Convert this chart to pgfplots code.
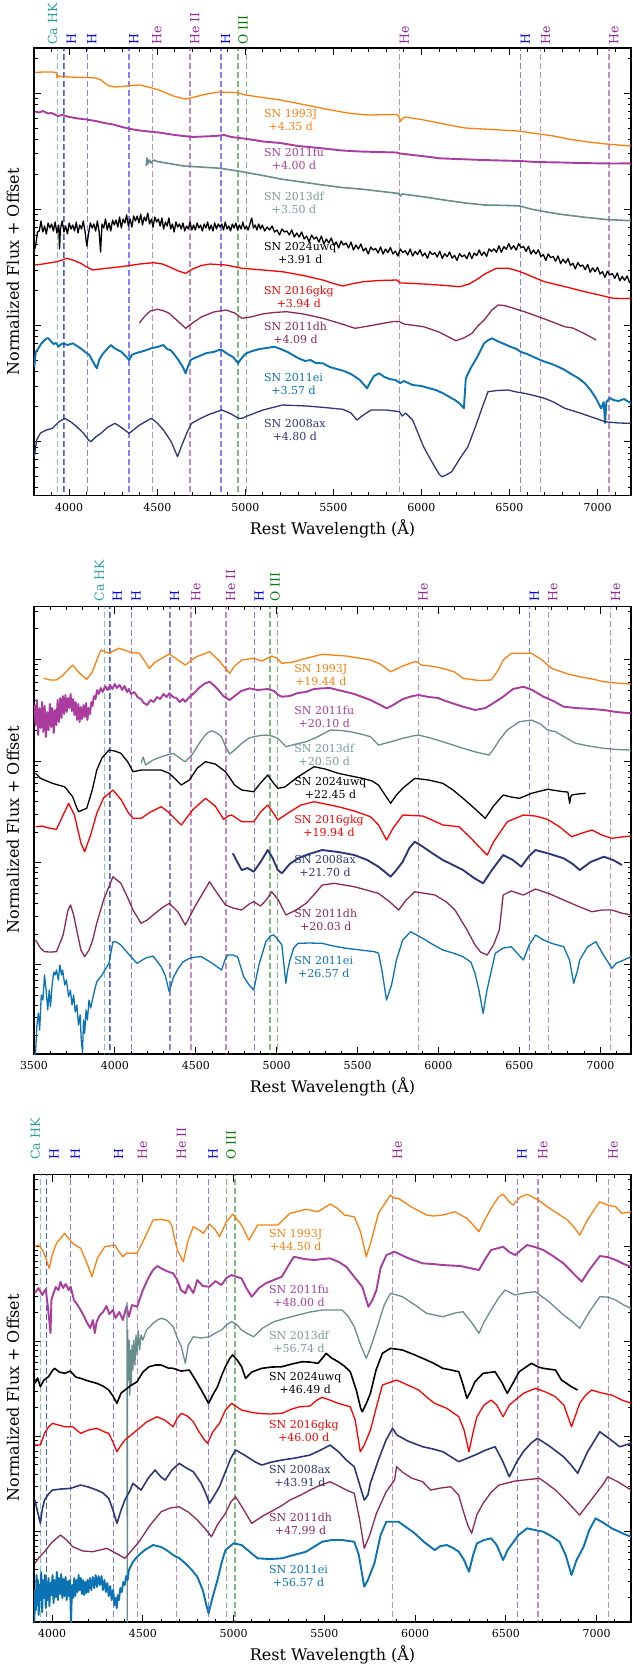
\documentclass[border=0pt]{standalone}
\usepackage{fontspec}
\setmainfont{DejaVu Serif}
\usepackage{pgfplots}
\pgfplotsset{compat=1.18}
\definecolor{c93J}{RGB}{255,127,14}
\definecolor{cfu}{RGB}{170,60,160}
\definecolor{cdf}{RGB}{105,140,140}
\definecolor{cdflab}{RGB}{120,155,155}
\definecolor{cuwq}{RGB}{0,0,0}
\definecolor{cgkg}{RGB}{255,0,0}
\definecolor{cdh}{RGB}{140,40,85}
\definecolor{cei}{RGB}{10,115,180}
\definecolor{cax}{RGB}{45,55,120}
\definecolor{caHK}{RGB}{40,160,160}
\definecolor{hblue}{RGB}{0,0,255}
\definecolor{hepur}{RGB}{150,40,150}
\definecolor{oiii}{RGB}{0,120,0}
\pgfplotsset{
 spec/.style={line width=1.3pt, line join=round, forget plot},
 noisy/.style={line width=1.9pt, line join=round, forget plot},
 panel/.style={
   scale only axis, width=597pt, height=447.5pt, anchor=north west,
   y dir=reverse, clip mode=individual,
   tick align=inside, tick pos=both,
   major tick length=7pt, minor tick length=3.5pt,
   every tick/.append style={line width=0.9pt, black},
   axis line style={line width=1.1pt},
   yticklabels={},
   xticklabel style={font=\fontsize{11}{13}\selectfont, yshift=-4pt},
 },
}
\newcommand{\specline}[3]{\addplot[draw=#1, draw opacity=#2, line width=1.3pt, dash pattern=on 6pt off 3pt, forget plot] coordinates {(#3,0) (#3,2000)};}
\newcommand{\alllines}{%
 \specline{caHK}{0.6}{3934}\specline{caHK}{0.6}{3968}%
 \specline{hblue}{0.5}{3970}\specline{hblue}{0.5}{4102}\specline{hblue}{0.5}{4340}\specline{hblue}{0.5}{4861}\specline{hblue}{0.5}{6563}%
 \specline{hepur}{0.55}{4471}\specline{hepur}{0.55}{4686}\specline{hepur}{0.55}{5876}\specline{hepur}{0.55}{6678}\specline{hepur}{0.55}{7065}%
 \specline{oiii}{0.5}{4959}\specline{oiii}{0.5}{5007}}
\tikzset{lab/.style={rotate=90, anchor=north west, inner sep=0pt, font=\fontsize{12.5}{14}\selectfont},
 snlab/.style={anchor=west, align=center, inner sep=0pt, font=\fontsize{11}{13}\selectfont}}
\newcommand{\alllabels}[1]{%
 \node[lab, text=caHK, anchor=south west] at (axis cs:3934,#1) {Ca HK};
 \node[lab, text=hblue] at (axis cs:3985,#1) {H};
 \node[lab, text=hblue] at (axis cs:4102,#1) {H};
 \node[lab, text=hblue] at (axis cs:4340,#1) {H};
 \node[lab, text=hblue] at (axis cs:4861,#1) {H};
 \node[lab, text=hblue] at (axis cs:6563,#1) {H};
 \node[lab, text=hepur] at (axis cs:4471,#1) {He};
 \node[lab, text=hepur] at (axis cs:4686,#1) {He II};
 \node[lab, text=hepur] at (axis cs:5876,#1) {He};
 \node[lab, text=hepur] at (axis cs:6678,#1) {He};
 \node[lab, text=hepur] at (axis cs:7065,#1) {He};
 \node[lab, text=oiii] at (axis cs:4959,#1) {O III};}
\begin{document}
\begin{tikzpicture}
\useasboundingbox (0,0) rectangle (632pt,-1668pt);
%================ PANEL 1 ================
\begin{axis}[panel, at={(34pt,-48pt)}, xmin=3800, xmax=7190, ymin=48, ymax=495.5,
 xtick={4000,4500,...,7000}, xticklabels={4000,4500,5000,5500,6000,6500,7000},
 minor xtick={3800,3900,...,7100},
 ytick={93.1,209.3,325.5,441.7},
 minor ytick={58.1,98.4,104.4,111.1,118.9,128.1,139.3,153.9,174.3,214.6,220.6,227.3,235.1,244.3,255.5,270.1,290.5,330.8,336.8,343.5,351.3,360.5,371.7,386.3,406.7,447.0,453.0,459.7,467.5,476.7,487.9}]
\alllines
\addplot[spec, color=c93J] coordinates {(3805,72.5) (3850,72) (3900,72) (3925,72.5) (3932,78) (3940,76) (3960,76.5) (4000,77) (4100,77.5) (4150,78) (4180,80) (4220,85.5) (4260,87) (4300,86.5) (4350,85.5) (4400,85) (4450,87) (4500,89.5) (4550,93) (4600,96.5) (4660,99) (4700,97.5) (4780,94) (4850,92) (4950,92.5) (5000,95) (5040,96) (5100,97.5) (5200,100) (5300,103.5) (5400,107) (5500,110.5) (5600,113.5) (5700,115) (5860,114.5) (5872,116) (5880,121.5) (5890,119) (5905,117) (6000,119.5) (6100,123) (6200,126.5) (6250,128) (6400,129.5) (6550,131) (6650,133.5) (6750,136) (6850,139.5) (6950,142) (7050,144) (7150,145.5) (7190,146)};
\addplot[noisy, color=cfu] coordinates {(3805,111.5) (3830,112.5) (3850,111) (3880,113.5) (3900,113) (3935,116) (3960,115) (4000,117) (4050,118.5) (4100,119.5) (4150,121) (4200,123) (4250,124.5) (4300,127) (4350,129) (4380,130) (4450,131.5) (4510,132.5) (4600,135) (4700,137) (4760,136.5) (4830,136) (4880,135) (4920,137) (4990,138.5) (5050,140) (5100,141.5) (5200,143) (5300,146) (5420,148) (5550,150.5) (5650,151.5) (5750,152) (5860,152.5) (5880,153.5) (5950,155) (6050,157) (6100,158.3) (6200,159) (6350,160) (6450,160.5) (6560,161) (6650,162) (6800,162.5) (6900,163) (7000,163.3) (7100,163.5) (7190,163.3)};
\addplot[spec, line width=1.6pt, color=cdf] coordinates {(4437,166) (4442,158) (4447,164) (4455,160) (4465,163) (4478,160) (4500,161.5) (4550,163) (4650,166) (4700,166.5) (4860,168.3) (4920,170) (4980,171.7) (5100,175.5) (5210,179.3) (5300,181.5) (5440,185) (5550,187.5) (5670,189.3) (5800,192) (5870,193.5) (5880,196) (5890,194) (6000,196.5) (6130,200) (6250,203) (6360,205) (6500,205.5) (6560,206) (6620,209) (6700,211.7) (6800,214.5) (6930,217.3) (7050,219.5) (7190,220.7)};
\addplot[spec, color=cuwq] coordinates {(3802,250) (3810,245) (3820,232) (3830,231) (3840,221) (3850,232) (3860,226) (3870,234) (3880,223) (3890,228) (3900,224) (3910,231) (3920,222) (3930,233) (3940,225) (3945,249) (3950,229) (3960,221) (3970,232) (3980,226) (3990,234) (4000,223) (4010,229) (4020,225) (4030,231) (4040,222) (4050,233) (4060,225) (4070,229) (4080,221) (4090,232) (4100,246) (4110,233) (4120,223) (4130,228) (4140,224) (4150,231) (4160,221) (4170,232) (4178,252) (4186,224) (4196,228) (4206,219) (4216,230) (4226,223) (4236,231) (4246,220) (4256,225) (4266,220) (4276,227) (4286,217) (4296,228) (4306,219) (4316,223) (4326,215) (4336,226) (4346,219) (4356,227) (4366,216) (4376,221) (4386,216) (4396,223) (4406,214) (4416,225) (4426,217) (4436,221) (4446,213) (4456,224) (4466,219) (4476,227) (4486,217) (4496,222) (4506,219) (4516,226) (4526,218) (4536,229) (4546,222) (4556,226) (4566,218) (4576,229) (4586,224) (4596,232) (4606,222) (4616,227) (4626,224) (4636,229) (4646,223) (4656,231) (4666,226) (4676,229) (4686,222) (4696,230) (4706,225) (4716,230) (4726,223) (4736,228) (4746,225) (4756,231) (4766,224) (4776,228) (4786,222) (4796,230) (4806,225) (4816,231) (4826,223) (4836,229) (4846,224) (4856,227) (4866,224) (4876,230) (4886,222) (4896,229) (4906,226) (4916,231) (4926,224) (4936,228) (4946,223) (4956,230) (4966,225) (4976,229) (4986,222) (4996,229) (5006,226) (5016,230) (5026,224) (5036,218) (5046,228) (5056,225) (5066,230) (5076,224) (5086,229) (5096,225) (5110,231) (5124,227) (5138,230) (5152,226) (5166,232) (5180,230) (5194,235) (5208,229) (5222,232) (5236,231) (5250,235) (5264,230) (5278,237) (5292,233) (5306,237) (5320,232) (5334,239) (5348,236) (5362,242) (5376,235) (5390,239) (5404,237) (5418,242) (5432,236) (5446,244) (5460,239) (5474,243) (5488,238) (5502,245) (5516,242) (5530,248) (5544,241) (5558,245) (5572,243) (5586,248) (5600,242) (5614,250) (5628,245) (5642,249) (5656,244) (5670,251) (5684,248) (5698,254) (5712,247) (5726,250) (5740,248.5) (5754,253) (5768,247) (5782,254) (5796,249) (5810,252.5) (5824,247.5) (5838,254) (5852,251) (5866,256) (5880,249) (5894,252.5) (5908,250.7) (5922,255) (5936,249) (5950,256) (5964,251.4) (5978,254.6) (5992,249.8) (6006,256) (6020,253) (6034,258.3) (6048,251.5) (6062,254.7) (6076,252.8) (6090,257) (6104,251.2) (6118,258.4) (6132,253.6) (6146,256.7) (6160,251.9) (6174,258.1) (6188,255.3) (6202,260.4) (6216,253.6) (6230,256.8) (6244,255) (6258,258.7) (6272,252.2) (6286,258.6) (6300,253.1) (6314,255.6) (6328,250) (6342,255.5) (6356,252) (6370,256.4) (6384,248.9) (6398,251.4) (6412,248.9) (6426,252.3) (6440,245.8) (6454,252.3) (6468,246.7) (6482,249.2) (6496,243.7) (6510,249.1) (6524,245.6) (6538,250.1) (6552,243.8) (6566,247.6) (6580,246.5) (6594,251.4) (6608,246.3) (6622,254.1) (6636,250) (6650,253.9) (6664,249.8) (6678,256.6) (6692,254.5) (6706,260.3) (6720,254) (6734,257.7) (6748,256.4) (6762,261.1) (6776,255.9) (6790,263.6) (6804,259.3) (6818,263) (6832,258.7) (6846,265.4) (6860,263.2) (6874,268.9) (6888,262.6) (6902,266.3) (6916,265) (6930,269.7) (6944,264.4) (6958,272.2) (6972,267.9) (6986,271.6) (7000,267.3) (7014,274) (7028,271.7) (7042,277.4) (7056,271.2) (7070,274.9) (7084,273.6) (7098,278.3) (7112,273) (7126,280.7) (7140,276.5) (7154,280.2) (7168,275.9) (7182,282.6) (7190,281)};
\addplot[spec, color=cgkg] coordinates {(3805,265) (3850,264) (3928,261.7) (3960,260) (3985,258.3) (4020,260) (4066,263.3) (4100,267) (4134,270) (4200,268.5) (4295,266.7) (4400,264) (4478,262.7) (4530,264) (4570,267) (4620,271) (4661,273.3) (4700,269) (4750,265.5) (4799,264) (4890,265) (4982,268.3) (5100,270) (5211,271.7) (5330,275.5) (5440,280) (5500,283.5) (5554,286) (5600,284) (5669,281.7) (5760,280.5) (5860,280) (5880,283) (5898,283) (6013,284) (6100,285) (6219,286.7) (6270,284) (6310,280) (6360,274) (6425,268.3) (6493,268.3) (6540,270.5) (6585,273.3) (6640,277.5) (6699,281.7) (6800,286) (6928,291.7) (7010,295) (7089,298.3) (7150,298.5) (7190,298.3)};
\addplot[spec, color=cdh] coordinates {(4398,323) (4430,316) (4460,311) (4501,309.3) (4540,311) (4569,313.5) (4610,320) (4661,328.3) (4700,323) (4753,316.7) (4820,312) (4890,310) (4940,313) (4970,317) (4982,318.3) (5030,317) (5096,314) (5160,312.5) (5234,311.7) (5330,314) (5440,318.3) (5530,323) (5623,328.3) (5700,326) (5783,323.3) (5840,321.5) (5875,321.7) (5900,324) (6012,326.7) (6100,332) (6195,340.7) (6240,338) (6287,333.3) (6320,326) (6356,320) (6400,310) (6436,305) (6470,305.5) (6500,307) (6585,311.7) (6700,319) (6814,326.7) (6859,328) (6930,334) (6992,340)};
\addplot[noisy, color=cei] coordinates {(3802,367) (3810,352) (3825,348.3) (3840,344) (3855,341) (3870,338.5) (3882,338.3) (3895,341) (3910,344) (3925,343) (3940,346.7) (3955,344) (3970,343.5) (3990,345) (4020,343.3) (4045,346) (4070,349) (4100,353.3) (4115,355) (4130,360) (4145,365) (4157,368.3) (4170,360) (4190,354) (4215,349) (4237,345) (4255,348) (4275,350) (4295,351.7) (4320,356) (4340,360) (4355,355) (4380,353) (4409,351.7) (4440,350) (4470,348) (4500,347) (4535,345) (4555,349) (4575,350) (4592,353.3) (4620,360) (4645,367) (4661,373.3) (4675,366) (4690,360) (4707,358.3) (4740,356) (4780,353) (4820,352) (4850,350) (4867,350) (4900,354) (4930,357) (4959,363.3) (4975,359) (4990,356) (5005,353.3) (5040,351) (5080,349) (5120,348) (5165,346.7) (5200,349) (5240,352) (5270,355) (5302,358.3) (5340,361) (5370,360) (5400,363) (5440,363.3) (5480,367) (5520,369) (5560,371) (5600,374) (5623,376.7) (5650,380) (5670,384) (5691,388.3) (5710,382) (5730,376) (5760,373.3) (5790,377) (5820,379) (5852,380) (5880,383) (5900,381) (5950,385) (6000,386) (6040,388) (6081,390) (6120,393) (6160,397) (6190,400) (6220,404) (6241,408.3) (6252,378.3) (6280,368) (6320,356) (6356,343.3) (6380,340) (6401,338.3) (6430,341) (6470,344) (6510,347) (6540,349) (6562,351.7) (6600,354) (6650,358) (6699,361.7) (6740,364) (6780,367) (6814,370) (6850,374) (6890,378) (6928,383.3) (6960,390) (6990,398) (7020,408.3) (7035,402) (7043,423) (7050,402) (7070,398) (7089,400) (7120,401) (7150,399) (7190,403.3)};
\addplot[spec, color=cax] coordinates {(3802,456.7) (3815,440) (3837,433) (3870,430) (3905,428.3) (3940,422) (3974,418.3) (4010,422) (4043,426.7) (4080,433) (4110,440) (4123,441.7) (4150,437) (4180,433.3) (4220,427) (4260,423.3) (4300,428) (4340,433.3) (4400,425) (4466,418.3) (4500,423) (4535,430) (4580,442) (4615,456.7) (4640,445) (4670,432) (4695,423.3) (4750,418) (4800,414) (4867,410) (4920,414) (4960,418.3) (4982,418.3) (5010,416) (5100,410) (5211,405) (5350,406) (5450,407.5) (5554,409.3) (5600,413) (5634,420) (5670,415) (5714,410) (5800,410) (5875,411.7) (5890,416) (5910,413) (5950,420) (6012,446.7) (6060,462) (6100,474) (6115,476.7) (6140,475) (6172,471.7) (6220,458) (6264,446.7) (6310,425) (6350,405) (6378,391.7) (6430,390.5) (6493,390) (6540,392) (6585,393.3) (6650,396) (6699,398.3) (6750,402) (6814,408.3) (6900,413) (6950,416) (7043,421.7) (7120,423) (7190,423.3)};
\alllabels{45}
\node[snlab, text=c93J] at (axis cs:5106,120) {SN 1993J\\+4.35 d};
\node[snlab, text=cfu] at (axis cs:5106,159) {SN 2011fu\\+4.00 d};
\node[snlab, text=cdflab] at (axis cs:5106,202.5) {SN 2013df\\+3.50 d};
\node[snlab, text=cuwq] at (axis cs:5106,252.5) {SN 2024uwq\\+3.91 d};
\node[snlab, text=cgkg] at (axis cs:5106,297) {SN 2016gkg\\+3.94 d};
\node[snlab, text=cdh] at (axis cs:5106,333) {SN 2011dh\\+4.09 d};
\node[snlab, text=cei] at (axis cs:5106,384) {SN 2011ei\\+3.57 d};
\node[snlab, text=cax] at (axis cs:5106,429.5) {SN 2008ax\\+4.80 d};
\end{axis}
%================ PANEL 2 ================
\begin{axis}[panel, at={(34pt,-606.5pt)}, xmin=3500, xmax=7190, ymin=606.5, ymax=1054,
 xtick={3500,4000,...,7000}, xticklabels={3500,4000,4500,5000,5500,6000,6500,7000},
 minor xtick={3500,3600,...,7100},
 ytick={659.5,761.2,862.9,964.6},
 minor ytick={611.0,628.9,664.2,669.4,675.3,682.1,690.1,700.0,712.7,730.6,765.9,771.1,777.0,783.8,791.8,801.7,814.4,832.3,867.6,872.8,878.7,885.5,893.5,903.4,916.1,934.0,969.3,974.5,980.4,987.2,995.2,1005.1,1017.8,1035.7}]
\alllines
\addplot[spec, color=c93J] coordinates {(3560,678.3) (3600,680) (3639,680) (3680,675) (3739,665) (3780,673) (3826,679.3) (3860,672) (3913,650) (3963,653.3) (4025,648.3) (4060,650) (4100,652.5) (4149,653) (4180,660) (4211,668.3) (4250,662) (4336,654) (4390,660) (4435,665) (4500,657) (4585,651.7) (4640,660) (4709,673.3) (4740,666) (4784,660) (4858,658.3) (4908,661) (4970,656) (5000,658) (5032,663.3) (5100,662) (5182,658.3) (5281,654.3) (5430,656) (5580,660) (5640,664) (5704,671.7) (5780,666) (5853,661.7) (5870,662) (5891,665) (5950,666) (6027,668.3) (6100,672) (6152,678.3) (6250,680.5) (6326,680) (6370,670) (6400,660) (6450,653.3) (6575,653.3) (6640,660) (6699,668.3) (6800,674) (6873,676.7) (6950,679) (7022,681.7) (7100,683) (7190,684)};
\addplot[noisy, color=cfu] coordinates {(3502,705) (3510,725) (3518,700) (3526,735) (3534,708) (3542,728) (3550,702) (3558,732) (3566,706) (3574,737) (3582,712) (3590,730) (3598,704) (3606,727) (3614,708) (3622,733) (3630,710) (3638,725) (3646,700) (3654,722) (3662,698) (3670,718) (3678,696) (3686,714) (3694,695) (3702,712) (3710,698) (3718,708) (3726,694) (3734,711) (3742,699) (3750,715) (3758,702) (3766,720) (3774,704) (3782,722) (3790,707) (3798,719) (3806,705) (3814,717) (3822,703) (3830,720) (3838,708) (3846,714) (3854,702) (3862,706) (3870,696) (3880,699) (3890,690) (3900,694) (3913,688) (3925,692) (3940,686) (3955,690) (3970,685) (3985,689) (4000,684) (4012,688) (4030,685) (4045,690) (4060,686) (4075,692) (4087,689) (4100,694) (4120,692) (4140,697) (4160,699) (4180,703) (4199,705) (4220,700) (4240,702) (4260,697) (4280,699) (4300,694) (4320,697) (4336,693.3) (4360,697) (4380,698) (4400,702) (4420,699) (4435,701.7) (4460,697) (4490,693) (4520,688) (4550,684) (4585,681.7) (4610,685) (4640,690) (4670,696) (4709,700) (4740,696) (4780,691) (4833,688.3) (4880,690) (4945,689) (4985,691) (5010,695) (5032,696.7) (5080,696) (5130,693) (5180,692) (5230,689) (5281,688.3) (5330,688) (5380,690) (5430,692) (5480,694) (5530,697) (5580,700) (5630,704) (5679,708.3) (5720,705) (5780,699) (5840,696) (5878,695) (5940,697) (6000,698) (6027,700) (6100,704) (6160,707) (6226,710) (6290,708) (6350,702) (6400,696.7) (6460,689) (6525,686.7) (6580,690) (6649,696.7) (6710,701) (6774,706.7) (6850,708) (6950,709) (7022,710) (7100,712) (7190,713.3)};
\addplot[spec, color=cdf] coordinates {(4162,763.3) (4175,757) (4190,765) (4236,760) (4300,756) (4361,753.3) (4400,758) (4435,761.7) (4480,754) (4535,740) (4570,733) (4597,730.7) (4630,733) (4659,736.7) (4680,745) (4709,754) (4740,750) (4784,743.3) (4830,738) (4858,736.7) (4900,735.5) (4933,735) (4970,736) (5007,738.3) (5030,742) (5057,746.7) (5120,744) (5182,741.7) (5250,737) (5331,730) (5400,730.5) (5455,731.7) (5520,734) (5580,736.7) (5629,745) (5700,742) (5779,738.3) (5840,736) (5878,735) (5950,738) (6027,741.7) (6090,745) (6152,748.3) (6230,752) (6313,755) (6345,748) (6376,740) (6425,730) (6500,721.7) (6575,720) (6630,724) (6674,730) (6724,731.7) (6790,738) (6848,743.3) (6930,746) (7022,748.3) (7100,749.5) (7190,750)};
\addplot[spec, color=cuwq] coordinates {(3510,773.3) (3540,778.3) (3580,781) (3614,783.3) (3650,785) (3689,786.7) (3739,796.7) (3760,806) (3776,811.7) (3800,810) (3826,808.3) (3860,790) (3888,770) (3920,758) (3963,750) (4000,751) (4037,753.3) (4080,762) (4112,771.7) (4162,770) (4220,770) (4286,770) (4336,773.3) (4380,780) (4410,785) (4460,780) (4510,768) (4560,761.7) (4620,764) (4684,771.7) (4740,785) (4784,790) (4858,791.7) (4900,783) (4945,775) (4980,783) (5007,788.3) (5050,787) (5130,777) (5231,766.7) (5300,769) (5381,773.3) (5460,776) (5530,778.3) (5590,781) (5629,785) (5670,795) (5704,803.3) (5740,795) (5779,788.3) (5853,778.3) (5940,780) (6027,783.3) (6090,790) (6152,798.3) (6220,808) (6289,818.3) (6340,806) (6400,795) (6450,797) (6500,798.3) (6575,793.3) (6674,789.3) (6774,791.7) (6800,792) (6811,803.3) (6817,797) (6823,795) (6860,794) (6910,793.3)};
\addplot[spec, color=cgkg] coordinates {(3510,826.7) (3550,826) (3590,828) (3639,829.3) (3680,815) (3714,803.3) (3750,815) (3790,843) (3813,851.7) (3850,835) (3888,813.3) (3930,798) (3988,790) (4040,800) (4080,812) (4112,818.3) (4162,818.3) (4220,812) (4286,806.7) (4330,812) (4410,825) (4480,810) (4560,798.3) (4620,806) (4672,819.3) (4700,816) (4721,815) (4750,818) (4784,821.7) (4858,821.7) (4900,812) (4945,805) (4975,812) (5007,820) (5080,812) (5150,805) (5231,801.7) (5300,804) (5381,806.7) (5480,811) (5580,816.7) (5630,825) (5679,840) (5720,828) (5779,815) (5903,816) (5960,820) (6027,825) (6127,826.7) (6200,838) (6270,850) (6301,855) (6340,842) (6425,821.7) (6525,815) (6600,816) (6674,819.3) (6750,827) (6823,836.7) (6870,834) (6948,830) (7010,835) (7072,838.3) (7130,837) (7190,836)};
\addplot[noisy, color=cax] coordinates {(4729,853.3) (4750,860) (4784,870) (4820,868) (4858,871.7) (4900,862) (4945,850) (4975,858) (5007,870) (5032,873.3) (5080,864) (5132,858.3) (5200,854) (5281,850) (5380,852) (5480,855) (5560,860) (5629,866.7) (5670,872) (5704,876.7) (5740,870) (5779,861.7) (5820,848) (5853,841.7) (5903,846.7) (5960,853) (6027,860) (6090,865) (6152,870) (6220,878) (6276,883.3) (6330,870) (6400,855) (6460,860) (6512,866.7) (6560,856) (6600,850) (6690,854) (6774,858.3) (6830,864) (6873,870) (6940,862) (7022,856.7) (7080,860) (7134,865)};
\addplot[spec, color=cdh] coordinates {(3510,940) (3540,948) (3565,951.7) (3600,952) (3639,951.7) (3680,935) (3710,910) (3726,905) (3745,915) (3764,930) (3790,950) (3813,956.7) (3840,950) (3863,940) (3888,923) (3930,900) (3988,876.7) (4037,883.3) (4080,898) (4112,910) (4162,923.3) (4200,920) (4236,915) (4290,908) (4336,903.3) (4390,912) (4435,925) (4500,905) (4585,881.7) (4640,895) (4684,905) (4730,908) (4784,910) (4830,904) (4858,901.7) (4900,906) (4935,900) (4970,891.7) (5010,900) (5057,915) (5120,910) (5182,903.3) (5240,893) (5281,885) (5356,883.3) (5480,886.7) (5629,893.3) (5700,902) (5754,910) (5800,900) (5853,891.7) (5978,895) (6050,902) (6102,910) (6177,930) (6226,945) (6260,952) (6301,955) (6340,945) (6376,930) (6400,895) (6450,891) (6525,895) (6600,889) (6690,894) (6774,900) (6860,906) (6948,911.7) (7010,910) (7072,910) (7130,913) (7190,915)};
\addplot[spec, color=cei] coordinates {(3505,1055) (3510,1051.7) (3518,1025) (3527,1013) (3535,1030) (3545,995) (3555,1000) (3565,975) (3575,990) (3585,1010) (3594,990) (3602,1006.7) (3612,985) (3622,972) (3630,975) (3639,970) (3650,980) (3660,965) (3670,975) (3677,970) (3690,985) (3700,980) (3714,996.7) (3725,990) (3735,1005) (3745,995) (3755,1012) (3765,1005) (3775,1025) (3785,1015) (3792,1040) (3800,1052) (3806,1020) (3813,1033.3) (3822,1010) (3830,1020) (3840,1000) (3850,1008) (3863,998.3) (3875,990) (3888,981.7) (3920,975) (3963,963.3) (3988,941.7) (4010,942) (4037,945) (4090,955) (4137,963.3) (4190,958) (4236,956) (4286,966.7) (4310,975) (4336,991.7) (4360,978) (4386,970) (4420,962) (4460,958.3) (4500,957) (4535,956.7) (4600,963) (4659,970) (4680,960) (4697,955) (4730,955) (4759,957) (4796,976.7) (4830,985) (4858,990) (4890,965) (4933,941.7) (4960,936) (4983,935) (5010,940) (5032,945) (5045,965) (5057,983.3) (5068,970) (5082,960) (5105,948) (5132,943.3) (5200,943) (5281,943.3) (5350,946) (5430,948.3) (5520,950) (5604,951.7) (5629,953) (5650,970) (5679,1000) (5710,985) (5740,960) (5779,940) (5828,931.7) (5903,938.3) (5960,944) (6027,950) (6090,953) (6152,956.7) (6200,962) (6226,973.3) (6250,990) (6276,1013.3) (6300,990) (6351,953.3) (6400,948) (6450,946.7) (6480,952) (6525,960) (6560,945) (6600,935) (6650,940) (6699,943.3) (6774,946.7) (6810,960) (6836,983.3) (6860,970) (6873,960) (6920,947) (6973,941.7) (7020,955) (7072,968.3) (7100,963) (7122,961.7) (7190,956.7)};
\alllabels{601.5}
\node[snlab, text=c93J] at (axis cs:5108,675) {SN 1993J\\+19.44 d};
\node[snlab, text=cfu] at (axis cs:5108,717) {SN 2011fu\\+20.10 d};
\node[snlab, text=cdflab] at (axis cs:5108,755) {SN 2013df\\+20.50 d};
\node[snlab, text=cuwq] at (axis cs:5108,788) {SN 2024uwq\\+22.45 d};
\node[snlab, text=cgkg] at (axis cs:5108,826) {SN 2016gkg\\+19.94 d};
\node[snlab, text=cax] at (axis cs:5108,866) {SN 2008ax\\+21.70 d};
\node[snlab, text=cdh] at (axis cs:5108,919.5) {SN 2011dh\\+20.03 d};
\node[snlab, text=cei] at (axis cs:5108,966.5) {SN 2011ei\\+26.57 d};
\end{axis}
%================ PANEL 3 ================
\begin{axis}[panel, at={(34pt,-1174.5pt)}, xmin=3900, xmax=7190, ymin=1174.5, ymax=1622,
 xtick={4000,4500,...,7000}, xticklabels={4000,4500,5000,5500,6000,6500,7000},
 minor xtick={3900,4000,...,7100},
 ytick={1246.3,1341.3,1436.3,1531.3},
 minor ytick={1179.9,1189.1,1201.0,1217.7,1250.7,1255.5,1261.0,1267.4,1274.9,1284.1,1296.0,1312.7,1345.7,1350.5,1356.0,1362.4,1369.9,1379.1,1391.0,1407.7,1440.7,1445.5,1451.0,1457.4,1464.9,1474.1,1486.0,1502.7,1535.7,1540.5,1546.0,1552.4,1559.9,1569.1,1581.0,1597.7}]
\alllines
\addplot[spec, color=c93J] coordinates {(3905,1246.7) (3924,1245) (3947,1250) (3965,1258) (3984,1268.3) (4000,1255) (4024,1243.3) (4069,1233.3) (4113,1243.3) (4157,1248.3) (4190,1262) (4219,1276.7) (4250,1258) (4290,1246.7) (4346,1245) (4370,1252) (4390,1256.7) (4410,1253) (4423,1253.3) (4468,1253) (4510,1238) (4556,1220) (4601,1219.3) (4645,1221) (4660,1226) (4670,1235) (4690,1250) (4723,1261.7) (4750,1240) (4778,1226.7) (4810,1230) (4833,1233.3) (4867,1224) (4900,1230) (4922,1236.7) (4960,1222) (4995,1214) (5044,1225) (5084,1240) (5110,1232) (5133,1225) (5244,1225) (5310,1213.3) (5399,1209.3) (5465,1211.7) (5532,1204) (5570,1208) (5610,1215) (5665,1216.7) (5700,1232) (5731,1256.7) (5760,1240) (5798,1213.3) (5864,1195) (5885,1198) (5909,1198.3) (5980,1207) (6064,1215) (6100,1216) (6153,1215) (6219,1211.7) (6286,1218.3) (6320,1225) (6352,1231.7) (6390,1218) (6419,1208.3) (6460,1197) (6485,1194) (6520,1202) (6541,1205) (6580,1197) (6618,1194.3) (6680,1200) (6729,1206.7) (6790,1214) (6840,1220) (6880,1228) (6907,1235) (6950,1220) (7017,1201.7) (7060,1205) (7106,1206.7) (7139,1213.3) (7190,1211.7)};
\addplot[noisy, color=cfu] coordinates {(3905,1293) (3925,1288) (3945,1295) (3965,1289) (3980,1313) (3991,1333) (3996,1300) (4002,1296) (4020,1287) (4035,1290) (4046,1281.7) (4060,1288) (4075,1284) (4091,1290) (4102,1286.7) (4120,1300) (4140,1305) (4157,1310) (4175,1316) (4190,1322) (4210,1328) (4225,1320) (4235,1333) (4245,1322) (4260,1316) (4280,1312) (4300,1306) (4315,1314) (4335,1310) (4350,1318) (4370,1312) (4390,1320) (4410,1306) (4423,1316.7) (4440,1305) (4468,1306.7) (4500,1290) (4530,1278) (4556,1270) (4580,1266) (4601,1268.3) (4630,1271) (4667,1273.3) (4690,1280) (4710,1290) (4734,1293.3) (4750,1285) (4778,1293) (4800,1280) (4830,1286) (4867,1286.7) (4900,1281) (4933,1285) (4960,1278) (4989,1275) (5020,1277) (5044,1278.3) (5070,1288) (5100,1296.7) (5140,1288) (5177,1283.3) (5220,1280) (5266,1276.7) (5300,1266) (5332,1256.7) (5390,1259) (5443,1260) (5490,1259) (5532,1258.3) (5580,1262) (5621,1266.7) (5670,1278) (5709,1286.7) (5743,1306.7) (5765,1300) (5787,1290) (5810,1268) (5842,1255) (5887,1251.7) (5960,1258) (6042,1263.3) (6100,1264) (6153,1265) (6250,1266) (6352,1270) (6390,1258) (6419,1250) (6485,1246.7) (6520,1252) (6552,1255) (6590,1249) (6618,1245) (6660,1247) (6707,1250) (6760,1256) (6818,1263.3) (6870,1273) (6918,1281.7) (6960,1270) (7018,1256) (7060,1257) (7106,1260) (7150,1264) (7190,1266.7)};
\addplot[spec, color=cdf] coordinates {(4412,1302) (4414,1622) (4416,1330) (4420,1380) (4424,1340) (4428,1395) (4432,1350) (4436,1385) (4440,1345) (4445,1370) (4450,1340) (4456,1365) (4462,1335) (4468,1355) (4475,1330) (4482,1350) (4490,1335) (4500,1340) (4520,1330) (4556,1323.3) (4580,1320) (4601,1318.3) (4630,1320) (4667,1326.7) (4690,1338) (4712,1346.7) (4734,1363.3) (4750,1345) (4778,1336.7) (4820,1338) (4867,1336.7) (4900,1333) (4933,1330) (4960,1325) (4989,1321.7) (5020,1325) (5044,1330) (5080,1334) (5111,1336.7) (5160,1328) (5222,1321.7) (5290,1318) (5355,1315) (5420,1312) (5488,1310) (5598,1310) (5630,1316) (5665,1326.7) (5700,1345) (5731,1358.3) (5760,1345) (5798,1323.3) (5830,1305) (5864,1293.3) (5900,1295) (5931,1296.7) (6000,1305) (6064,1313.3) (6153,1316.7) (6220,1313) (6264,1311.7) (6310,1322) (6352,1333.3) (6380,1322) (6419,1310) (6460,1298) (6496,1290) (6552,1295) (6600,1293) (6663,1291.7) (6740,1302) (6818,1315) (6870,1322) (6907,1328.3) (6960,1312) (7018,1296.7) (7060,1297) (7106,1300) (7150,1305) (7190,1308.3)};
\addplot[spec, line width=1.6pt, color=cuwq] coordinates {(3905,1383.3) (3920,1378) (3935,1386.7) (3955,1380) (3980,1376.7) (4000,1371) (4013,1368.3) (4040,1372) (4069,1373.3) (4100,1371) (4130,1377) (4157,1378.3) (4200,1381) (4246,1383.3) (4280,1386) (4312,1390) (4335,1396) (4357,1403.3) (4380,1393) (4401,1390) (4430,1386) (4468,1381.7) (4500,1372) (4534,1366.7) (4570,1365) (4601,1365) (4640,1368) (4667,1368.3) (4710,1371) (4756,1370) (4790,1380) (4822,1390) (4862,1403.3) (4885,1395) (4911,1386.7) (4935,1375) (4955,1366.7) (4980,1358) (4995,1355) (5020,1360) (5044,1366.7) (5066,1378.3) (5100,1372) (5155,1368.3) (5210,1367) (5266,1366.7) (5320,1364) (5377,1361.7) (5420,1362) (5465,1363.3) (5490,1358) (5510,1353.3) (5540,1358) (5576,1361.7) (5610,1366) (5643,1371.7) (5676,1390) (5700,1408) (5709,1411.7) (5730,1404) (5754,1393.3) (5785,1370) (5820,1353.3) (5864,1348.3) (5931,1350) (6000,1355) (6042,1358.3) (6100,1363) (6153,1368.3) (6200,1370) (6241,1371.7) (6265,1385) (6286,1398.3) (6310,1390) (6330,1381.7) (6375,1373.3) (6441,1371.7) (6480,1383) (6508,1393.3) (6540,1383) (6574,1371.7) (6641,1363.3) (6680,1367) (6707,1368.3) (6774,1370) (6800,1378) (6807,1380) (6840,1384) (6862,1386.7) (6896,1390)};
\addplot[spec, color=cgkg] coordinates {(3905,1445) (3935,1445) (3958,1433.3) (3980,1427) (4002,1423.3) (4069,1426.7) (4113,1426.7) (4157,1433.3) (4200,1430) (4246,1428.3) (4290,1432) (4312,1433.3) (4335,1442) (4357,1451.7) (4380,1445) (4401,1440) (4468,1430) (4520,1422) (4578,1416.7) (4620,1420) (4667,1426.7) (4690,1418) (4712,1413.3) (4745,1416) (4778,1421.7) (4810,1432) (4840,1440) (4856,1443.3) (4885,1432) (4922,1423.3) (4955,1410) (4989,1403.3) (5044,1410) (5090,1412) (5133,1413.3) (5200,1414) (5266,1413.3) (5320,1409) (5366,1406.7) (5421,1406) (5460,1400) (5488,1397.3) (5530,1400) (5576,1403.3) (5643,1406.7) (5670,1420) (5698,1451.7) (5720,1445) (5754,1430) (5790,1405) (5820,1385) (5898,1380) (5960,1385) (6020,1390) (6070,1398) (6108,1403.3) (6175,1408.3) (6241,1416.7) (6270,1430) (6297,1451.7) (6320,1432) (6341,1416.7) (6380,1405) (6419,1400) (6450,1405) (6485,1416.7) (6520,1405) (6552,1400) (6600,1393) (6663,1388.3) (6720,1392) (6774,1396.7) (6820,1405) (6862,1426.7) (6885,1415) (6907,1403.3) (6940,1395) (6973,1390) (7030,1393) (7084,1395) (7140,1400) (7190,1403.3)};
\addplot[spec, line width=1.6pt, color=cax] coordinates {(3905,1500) (3920,1512) (3935,1523.3) (3945,1510) (3958,1500) (3980,1494) (4002,1490) (4050,1489) (4102,1488.3) (4157,1485) (4200,1487) (4246,1490) (4280,1493) (4312,1498.3) (4335,1510) (4357,1523.3) (4380,1510) (4401,1500) (4430,1490) (4445,1483.3) (4490,1490) (4530,1478) (4567,1470) (4600,1477) (4623,1480) (4660,1470) (4700,1463.3) (4740,1468) (4778,1471.7) (4822,1483.3) (4850,1495) (4867,1503.3) (4895,1495) (4922,1486.7) (4955,1471.7) (4985,1458) (5011,1450) (5050,1454) (5088,1458.3) (5120,1462) (5155,1465) (5210,1462) (5266,1460) (5340,1458) (5421,1455) (5480,1450) (5532,1445) (5580,1452) (5621,1460) (5665,1466.7) (5695,1485) (5720,1500) (5740,1495) (5754,1483) (5798,1460) (5840,1440) (5876,1428.3) (5900,1435) (5960,1441) (6042,1446.7) (6100,1449) (6153,1451.7) (6200,1457) (6241,1461.7) (6290,1458) (6330,1455) (6390,1450) (6441,1446.7) (6480,1460) (6519,1476.7) (6560,1462) (6596,1451.7) (6640,1443) (6674,1438.3) (6740,1446) (6818,1456.7) (6860,1465) (6896,1473.3) (6950,1452) (7018,1431.7) (7080,1440) (7128,1446.7) (7190,1443.3)};
\addplot[spec, color=cdh] coordinates {(3905,1563.3) (3930,1557) (3958,1551.7) (4000,1542) (4046,1535) (4080,1540) (4113,1546.7) (4170,1551) (4224,1551.7) (4301,1548.3) (4350,1553) (4401,1558.3) (4440,1550) (4479,1541.7) (4540,1525) (4601,1511.7) (4650,1508) (4700,1506.7) (4750,1512) (4800,1520) (4840,1528) (4878,1536.7) (4910,1525) (4955,1513.3) (4985,1502) (5011,1496.7) (5050,1508) (5100,1523.3) (5160,1516) (5222,1510) (5270,1505) (5310,1500) (5370,1495) (5421,1490) (5480,1485) (5532,1481.7) (5580,1486) (5621,1490) (5665,1493.3) (5695,1520) (5720,1548.3) (5750,1535) (5787,1513.3) (5840,1492) (5887,1480) (5898,1466.7) (5930,1472) (5980,1478) (6042,1481.7) (6086,1490) (6140,1488) (6197,1486.7) (6240,1495) (6264,1510) (6290,1525) (6312,1533.3) (6340,1515) (6375,1503.3) (6420,1492) (6463,1485) (6550,1481) (6685,1478.3) (6730,1484) (6774,1490) (6840,1502) (6907,1515) (6970,1500) (7040,1483.3) (7062,1476.7) (7120,1482) (7190,1490)};
\addplot[noisy, color=cei] coordinates {(3902,1622) (3906,1590) (3910,1610) (3914,1575) (3918,1605) (3922,1580) (3926,1615) (3930,1585) (3935,1600) (3940,1572) (3945,1612) (3950,1580) (3955,1598) (3960,1575) (3965,1608) (3970,1582) (3975,1600) (3980,1578) (3985,1606) (3990,1583) (3996,1595) (4002,1575) (4008,1603) (4014,1580) (4020,1597) (4026,1572) (4032,1600) (4038,1578) (4044,1594) (4050,1574) (4056,1598) (4062,1579) (4068,1596) (4074,1577) (4080,1600) (4086,1581) (4092,1596) (4098,1580) (4104,1622) (4110,1585) (4116,1598) (4122,1578) (4128,1596) (4134,1580) (4140,1592) (4146,1575) (4152,1590) (4158,1578) (4164,1594) (4170,1580) (4176,1595) (4182,1582) (4188,1593) (4194,1580) (4200,1592) (4208,1578) (4216,1590) (4224,1577) (4232,1588) (4240,1575) (4248,1587) (4256,1576) (4264,1585) (4272,1576) (4280,1590) (4288,1580) (4296,1592) (4304,1583) (4312,1596) (4320,1586) (4328,1600) (4336,1590) (4344,1605) (4350,1598) (4356,1608) (4362,1595) (4368,1600) (4376,1588) (4384,1592) (4392,1582) (4400,1585) (4408,1576) (4416,1580) (4423,1570) (4445,1562) (4468,1556.7) (4510,1550) (4556,1545) (4601,1547) (4630,1550) (4667,1555) (4700,1558) (4734,1563.3) (4770,1570) (4800,1576.7) (4830,1590) (4850,1605) (4862,1613.3) (4880,1600) (4911,1580) (4935,1562) (4955,1550) (5000,1543.3) (5044,1545) (5090,1552) (5133,1558.3) (5200,1559) (5266,1558.3) (5330,1555) (5399,1551.7) (5450,1546) (5488,1541.7) (5540,1540) (5598,1540) (5665,1541.7) (5690,1555) (5720,1586.7) (5740,1580) (5776,1563.3) (5810,1535) (5842,1521.7) (5909,1521.7) (5950,1527) (5998,1533.3) (6050,1542) (6108,1550) (6140,1546) (6175,1545) (6210,1548) (6241,1551.7) (6270,1560) (6297,1571.7) (6320,1555) (6341,1543.3) (6380,1540) (6419,1538.3) (6450,1545) (6485,1560) (6510,1550) (6530,1545) (6570,1535) (6618,1528.3) (6660,1530) (6707,1531.7) (6750,1536) (6796,1541.7) (6830,1555) (6862,1575) (6890,1560) (6929,1546.7) (6960,1530) (6995,1518.3) (7040,1523) (7084,1528.3) (7140,1533) (7190,1536.7)};
\alllabels{1160}
\node[snlab, text=c93J] at (axis cs:5195,1239.5) {SN 1993J\\+44.50 d};
\node[snlab, text=cfu] at (axis cs:5195,1296) {SN 2011fu\\+48.00 d};
\node[snlab, text=cdflab] at (axis cs:5195,1341.5) {SN 2013df\\+56.74 d};
\node[snlab, text=cuwq] at (axis cs:5195,1383.3) {SN 2024uwq\\+46.49 d};
\node[snlab, text=cgkg] at (axis cs:5195,1431) {SN 2016gkg\\+46.00 d};
\node[snlab, text=cax] at (axis cs:5195,1476) {SN 2008ax\\+43.91 d};
\node[snlab, text=cdh] at (axis cs:5195,1524) {SN 2011dh\\+47.99 d};
\node[snlab, text=cei] at (axis cs:5195,1576) {SN 2011ei\\+56.57 d};
\end{axis}
%================ AXIS TITLES ================
\node[font=\fontsize{16}{19}\selectfont] at (332.5pt,-529pt) {Rest Wavelength (Å)};
\node[font=\fontsize{16}{19}\selectfont] at (332.5pt,-1087pt) {Rest Wavelength (Å)};
\node[font=\fontsize{16}{19}\selectfont] at (332.5pt,-1655pt) {Rest Wavelength (Å)};
\node[rotate=90, font=\fontsize{16}{19}\selectfont] at (13pt,-272pt) {Normalized Flux + Offset};
\node[rotate=90, font=\fontsize{16}{19}\selectfont] at (13pt,-830pt) {Normalized Flux + Offset};
\node[rotate=90, font=\fontsize{16}{19}\selectfont] at (13pt,-1398pt) {Normalized Flux + Offset};
\end{tikzpicture}
\end{document}
